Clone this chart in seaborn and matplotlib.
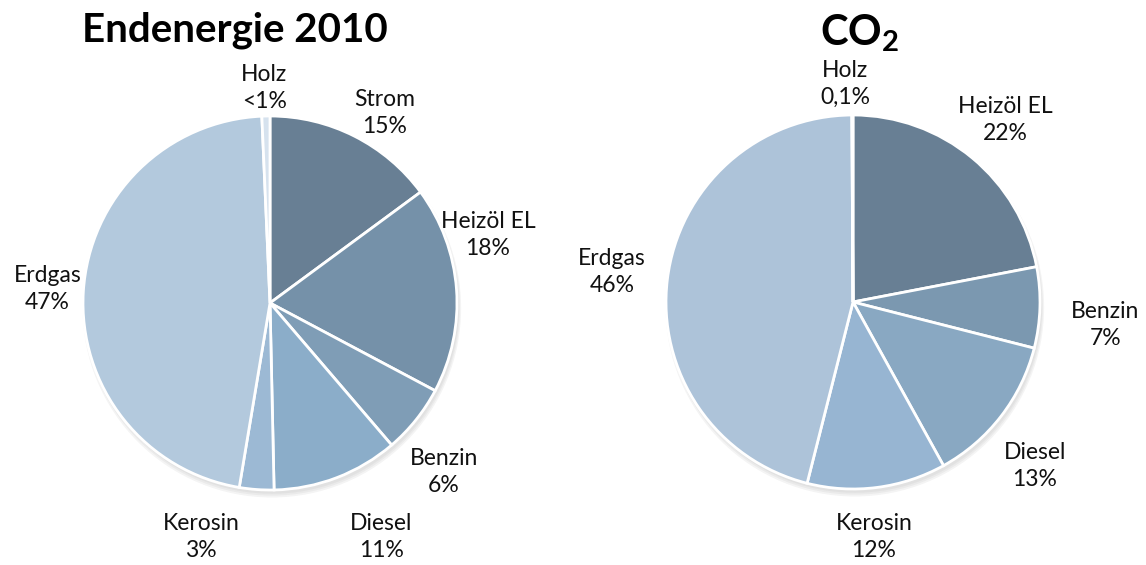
import matplotlib
matplotlib.use("Agg")
import matplotlib.pyplot as plt
import seaborn as sns
from matplotlib.patches import Circle

sns.set_theme(style="white")
plt.rcParams["font.family"] = ["Lato", "DejaVu Sans"]
plt.rcParams["mathtext.fontset"] = "custom"
plt.rcParams["mathtext.rm"] = "Lato"
plt.rcParams["mathtext.bf"] = "Lato:bold"

# Final energy 2010 (share in %)
energy_labels = ["Strom", "Heizöl EL", "Benzin", "Diesel", "Kerosin", "Erdgas", "Holz"]
energy_values = [15, 18, 6, 11, 3, 47, 0.7]
energy_texts = ["15%", "18%", "6%", "11%", "3%", "47%", "<1%"]
energy_colors = ["#687f94", "#7591a9", "#7f9db6", "#8badc9", "#9cb9d4", "#b3c9dd", "#d6e2ee"]

# CO2 emissions (share in %)
co2_labels = ["Heizöl EL", "Benzin", "Diesel", "Kerosin", "Erdgas", "Holz"]
co2_values = [22, 7, 13, 12, 46, 0.1]
co2_texts = ["22%", "7%", "13%", "12%", "46%", "0,1%"]
co2_colors = ["#687f94", "#7b98b0", "#89a8c2", "#97b5d2", "#adc3d9", "#dde6f0"]

# label anchor positions in units of the pie radius
energy_pos = [(0.615, 1.016), (1.166, 0.364), (0.93, -0.904), (0.594, -1.25),
              (-0.369, -1.25), (-1.19, 0.075), (-0.03, 1.15)]
co2_pos = [(0.813, 0.973), (1.348, -0.123), (0.973, -0.877), (0.112, -1.257),
           (-1.289, 0.16), (-0.043, 1.166)]

W, H = 1146, 565
fig = plt.figure(figsize=(W / 100, H / 100), dpi=100)


def make_pie(cx, cy, r, labels, values, texts, colors, pos):
    ax = fig.add_axes([(cx - r) / W, (H - cy - r) / H, 2 * r / W, 2 * r / H])
    ax.set_xlim(-1, 1)
    ax.set_ylim(-1, 1)
    ax.set_aspect("equal")
    ax.axis("off")
    # soft drop shadow beneath the pie
    for i, a in enumerate([0.05, 0.05, 0.06]):
        ax.add_patch(Circle((0.01, -0.02 - 0.004 * i), 1.0 + 0.006 * i,
                            color="#444444", alpha=a, zorder=0, lw=0, clip_on=False))
    ax.pie(values, colors=colors, startangle=90, counterclock=False, radius=1.0,
           wedgeprops=dict(edgecolor="white", linewidth=2, antialiased=True))
    ax.set_xlim(-1, 1)
    ax.set_ylim(-1, 1)
    for lab, txt, (x, y) in zip(labels, texts, pos):
        ax.text(x, y, f"{lab}\n{txt}", ha="center", va="center", fontsize=16.5,
                color="#111111", linespacing=1.35, clip_on=False)
    return ax


make_pie(270, 303, 187, energy_labels, energy_values, energy_texts, energy_colors, energy_pos)
make_pie(853, 302, 187, co2_labels, co2_values, co2_texts, co2_colors, co2_pos)

fig.text(235 / W, 1 - 30 / H, "Endenergie 2010", ha="center", va="center",
         fontsize=29, fontweight="bold", color="black")
fig.text(860 / W, 1 - 33 / H, r"$\mathbf{CO_2}$", ha="center", va="center",
         fontsize=30, color="black")

fig.savefig("out.png", dpi=100, facecolor="white")
